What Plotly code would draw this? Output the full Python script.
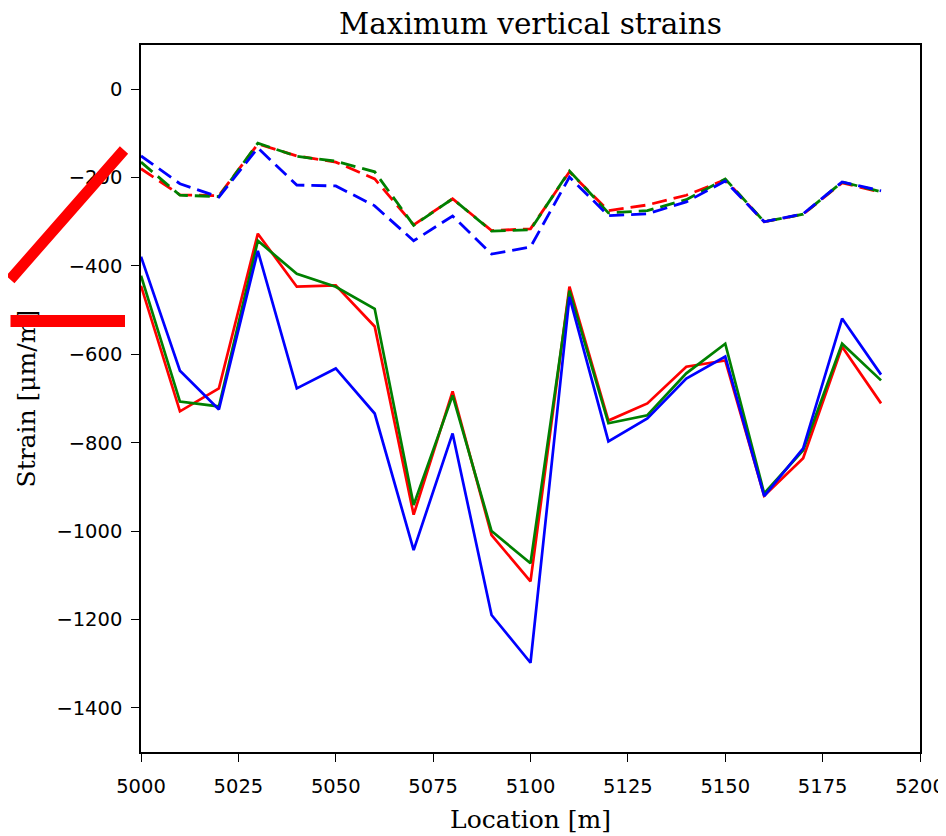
import plotly.graph_objects as go

location = [5000, 5010, 5020, 5030, 5040, 5050, 5060, 5070, 5080, 5090,
            5100, 5110, 5120, 5130, 5140, 5150, 5160, 5170, 5180, 5190]

# solid lines
red_solid = [-445, -729, -677, -327, -447, -444, -537, -963, -684, -1009,
             -1114, -447, -750, -711, -628, -614, -920, -835, -583, -711]
green_solid = [-422, -707, -718, -343, -418, -447, -497, -941, -693, -1000,
               -1073, -456, -756, -738, -643, -576, -915, -817, -576, -659]
blue_solid = [-379, -637, -725, -366, -677, -632, -734, -1043, -779, -1190,
              -1298, -470, -797, -745, -655, -605, -921, -813, -519, -646]

# dashed lines
red_dash = [-180, -239, -241, -124, -151, -165, -203, -307, -248, -320,
            -316, -187, -275, -262, -240, -205, -300, -283, -212, -233]
green_dash = [-165, -240, -243, -122, -152, -163, -187, -308, -248, -321,
              -318, -185, -280, -275, -250, -203, -300, -283, -210, -232]
blue_dash = [-151, -214, -244, -133, -217, -219, -264, -343, -287, -373,
             -357, -199, -286, -282, -255, -208, -300, -282, -210, -230]

RED, GREEN, BLUE = "#ff0000", "#008000", "#0000ff"

fig = go.Figure()
for ys, c in [(red_dash, RED), (green_dash, GREEN), (blue_dash, BLUE)]:
    fig.add_trace(go.Scatter(x=location, y=ys, mode="lines",
                             line=dict(color=c, width=2.8, dash="15px,7px")))
for ys, c in [(red_solid, RED), (green_solid, GREEN), (blue_solid, BLUE)]:
    fig.add_trace(go.Scatter(x=location, y=ys, mode="lines",
                             line=dict(color=c, width=2.7)))

axis_common = dict(showgrid=False, zeroline=False, showline=True, linecolor="black",
                   linewidth=1.5, mirror=True, ticks="outside", ticklen=8,
                   tickwidth=1.3, tickcolor="black", automargin=False,
                   tickfont=dict(family="DejaVu Sans", size=19.5, color="black"))

# the page body has an 8px margin, so the figure is 8px smaller and margins shifted
W, H = 938, 828
ML, MR, MT, MB = 133, 26, 37, 84

fig.update_layout(
    width=W, height=H,
    margin=dict(l=ML, r=MR, t=MT, b=MB),
    paper_bgcolor="white", plot_bgcolor="white",
    showlegend=False,
    title=dict(text="Maximum vertical strains", x=(ML + (W - ML - MR) / 2) / W, xanchor="center",
               y=1 - 16 / H, yanchor="middle", yref="container",
               font=dict(family="DejaVu Serif", size=29.5, color="black")),
    xaxis=dict(range=[5000, 5200], tickvals=[5000, 5025, 5050, 5075, 5100, 5125, 5150, 5175, 5200],
               title=dict(text="Location [m]", font=dict(family="DejaVu Serif", size=25, color="black"),
                          standoff=13),
               ticklabelstandoff=8, **axis_common),
    yaxis=dict(range=[-1500, 100], tickvals=[0, -200, -400, -600, -800, -1000, -1200, -1400],
               ticklabelstandoff=5, **axis_common),
    annotations=[
        dict(text="Strain [μm/m]", textangle=-90, xref="paper", yref="paper",
             x=(26 - 141) / 779, y=0.5, showarrow=False, xanchor="center", yanchor="middle",
             font=dict(family="DejaVu Serif", size=25, color="black")),
        dict(text="", xref="paper", yref="paper", x=(124 - 141) / 779, y=(752 - 150) / 707,
             showarrow=True, arrowhead=0, arrowwidth=11, arrowcolor=RED,
             ax=-115, ay=131, axref="pixel", ayref="pixel", standoff=0, startstandoff=0),
        dict(text="", xref="paper", yref="paper", x=(125 - 141) / 779, y=(752 - 321) / 707,
             showarrow=True, arrowhead=0, arrowwidth=12, arrowcolor=RED,
             ax=-116, ay=0, axref="pixel", ayref="pixel", standoff=0, startstandoff=0),
    ],
)

fig.write_html("out.html")
